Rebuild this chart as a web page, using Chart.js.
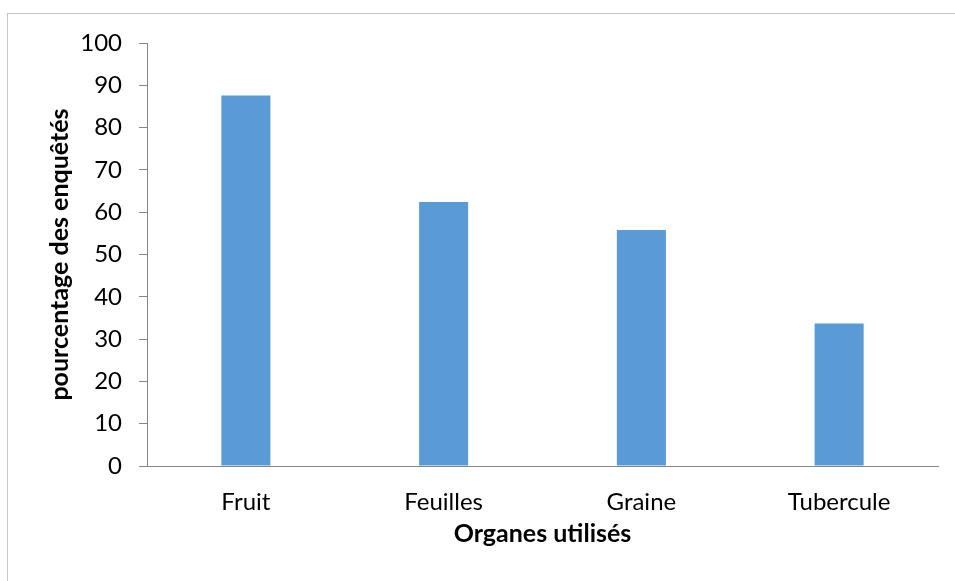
<!DOCTYPE html>
<html>
<head>
<meta charset="utf-8">
<script src="https://cdn.jsdelivr.net/npm/chart.js@4/dist/chart.umd.min.js"></script>
<style>
    html, body { margin: 0; padding: 0; background: #fff; overflow: hidden; }
    #wrap { position: relative; width: 955px; height: 581px; }
    #frame {
        position: absolute; left: 7px; top: 13px; width: 1000px; height: 1000px;
        border-left: 1px solid #c6c6c6; border-top: 1px solid #c6c6c6;
    }
    canvas { position: absolute; left: 0; top: 0; }
</style>
</head>
<body>
<div id="wrap">
    <div id="frame"></div>
    <canvas id="organChart" width="955" height="581"></canvas>
</div>
<script>
// Data
const organes = ['Fruit', 'Feuilles', 'Graine', 'Tubercule'];
const pourcentages = [87.6, 62.4, 55.8, 33.7];
const yTicks = [0, 10, 20, 30, 40, 50, 60, 70, 80, 90, 100];

const axisGray = '#868686';
const fontFamily = 'Lato, "Open Sans", sans-serif';

const ctx = document.getElementById('organChart').getContext('2d');

new Chart(ctx, {
    type: 'bar',
    data: {
        labels: organes,
        datasets: [{
            data: pourcentages,
            backgroundColor: '#5b9bd5',
            borderWidth: 0,
            categoryPercentage: 1,
            barPercentage: 0.248
        }]
    },
    options: {
        responsive: false,
        animation: false,
        layout: {
            padding: { left: 0, top: 43, right: 17, bottom: 0 }
        },
        plugins: {
            legend: { display: false },
            tooltip: { enabled: false }
        },
        scales: {
            x: {
                grid: { display: true, drawOnChartArea: false, drawTicks: false },
                border: { display: true, color: axisGray, width: 1 },
                ticks: {
                    color: '#000',
                    padding: 22,
                    font: { family: fontFamily, size: 24 }
                },
                title: {
                    display: true,
                    text: 'Organes utilisés',
                    color: '#000',
                    font: { family: fontFamily, size: 25, weight: 'bold' },
                    padding: { top: 0, bottom: 32 }
                },
                afterFit: (scale) => { scale.height = 115; }
            },
            y: {
                min: 0,
                max: 100,
                afterBuildTicks: (scale) => {
                    scale.ticks = yTicks.map(v => ({ value: v }));
                },
                grid: {
                    drawOnChartArea: false,
                    drawTicks: true,
                    tickLength: 8,
                    color: axisGray
                },
                border: { display: true, color: axisGray, width: 1 },
                ticks: {
                    color: '#000',
                    padding: 17,
                    font: { family: fontFamily, size: 24 }
                },
                title: {
                    display: true,
                    text: 'pourcentage des enquêtés',
                    color: '#000',
                    font: { family: fontFamily, size: 25, weight: 'bold' },
                    padding: { top: 45, bottom: 0 }
                },
                afterFit: (scale) => { scale.width = 147; }
            }
        }
    }
});
</script>
</body>
</html>
